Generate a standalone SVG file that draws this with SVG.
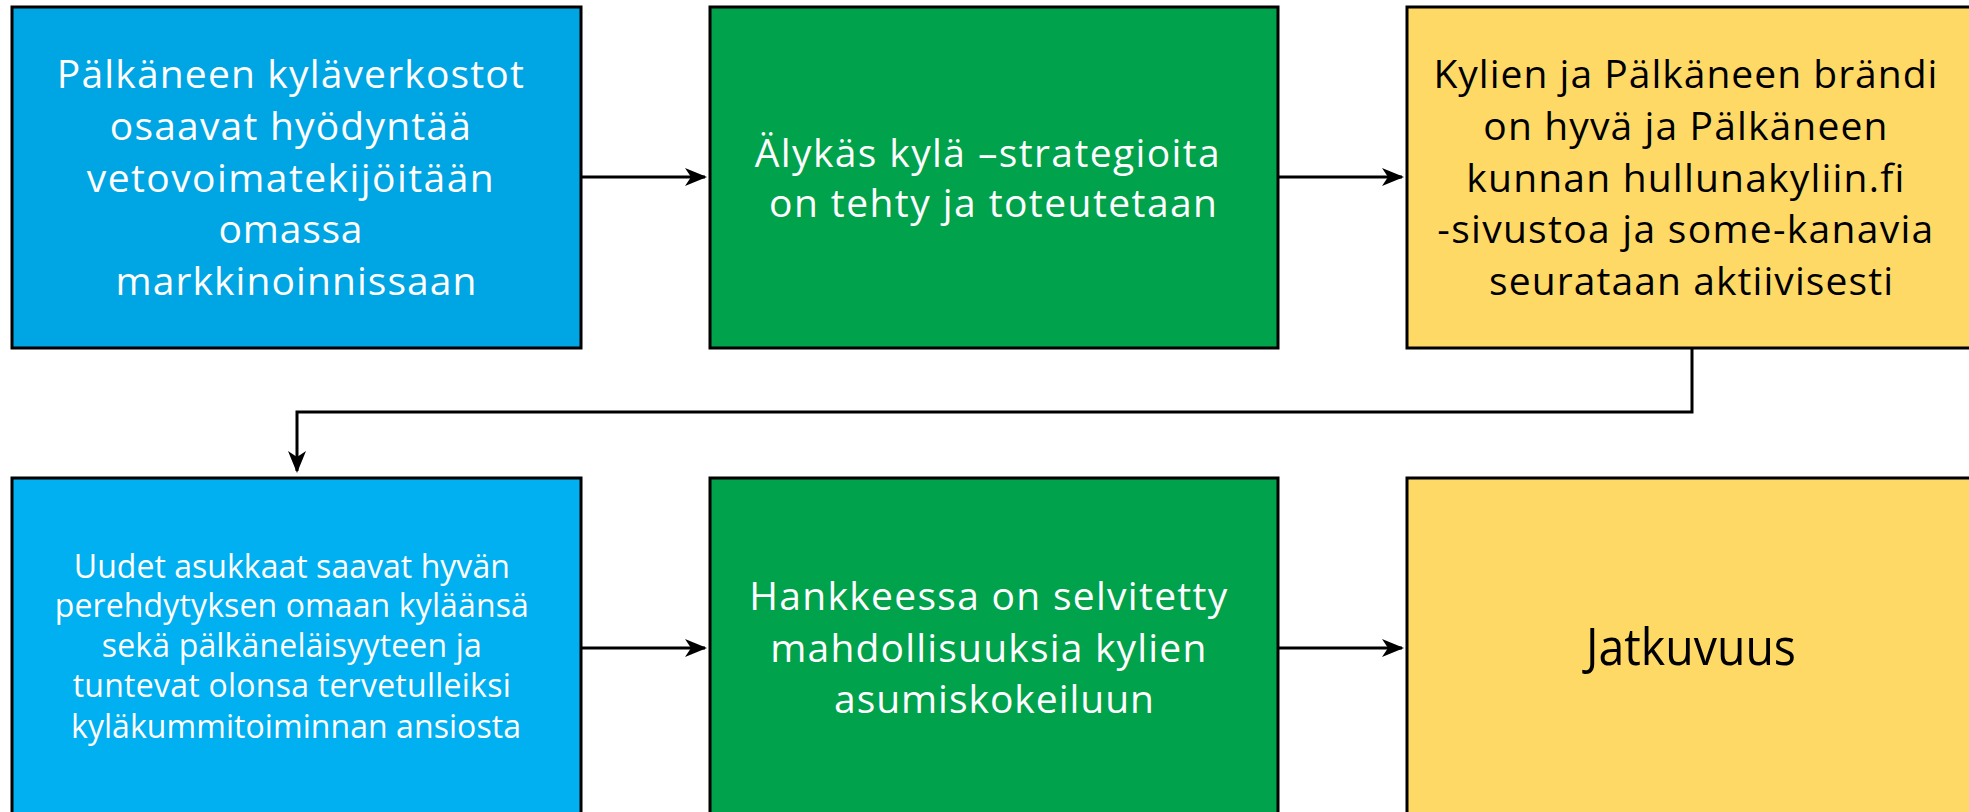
<svg xmlns="http://www.w3.org/2000/svg" width="1969" height="812" viewBox="0 0 1969 812">
<defs>
<style>
.box{stroke:#000;stroke-width:3}
.b1{fill:#00A5E3}
.b4{fill:#00B0F0}
.g{fill:#00A24B}
.y{fill:#FFD966}
.t{font-family:"Open Sans","Noto Sans","Liberation Sans",sans-serif;font-size:39px;text-anchor:middle;font-variant-ligatures:none}
.s{font-size:32px}
.l{font-size:52px}
.w{fill:#fff}
.k{fill:#000}
.c{fill:none;stroke:#000;stroke-width:3}
</style>
<marker id="ah" viewBox="0 0 22 18" refX="20" refY="9" markerWidth="22" markerHeight="18" markerUnits="userSpaceOnUse" orient="auto">
<path d="M0,0 L22,9 L0,18 L6,9 Z" fill="#000"/>
</marker>
</defs>
<rect width="1969" height="812" fill="#fff"/>
<g id="connectors">
<line class="c" x1="581" y1="177" x2="705" y2="177" marker-end="url(#ah)"/>
<line class="c" x1="1278" y1="177" x2="1402" y2="177" marker-end="url(#ah)"/>
<polyline class="c" points="1692,348 1692,412 297,412 297,471" marker-end="url(#ah)"/>
<line class="c" x1="581" y1="648" x2="705" y2="648" marker-end="url(#ah)"/>
<line class="c" x1="1278" y1="648" x2="1402" y2="648" marker-end="url(#ah)"/>
</g>
<g id="node1">
<rect class="box b1" x="12" y="7" width="569" height="341"/>
<text class="t w" lengthAdjust="spacingAndGlyphs">
<tspan x="296" y="88" textLength="467">Pälkäneen kyläverkostot</tspan>
<tspan x="296" y="140" textLength="361">osaavat hyödyntää</tspan>
<tspan x="296" y="192" textLength="407">vetovoimatekijöitään</tspan>
<tspan x="296" y="243" textLength="144">omassa</tspan>
<tspan x="296" y="295" textLength="361">markkinoinnissaan</tspan>
</text>
</g>
<g id="node2">
<rect class="box g" x="710" y="7" width="568" height="341"/>
<text class="t w" lengthAdjust="spacingAndGlyphs">
<tspan x="993" y="167" textLength="465">Älykäs kylä –strategioita</tspan>
<tspan x="993" y="217" textLength="448">on tehty ja toteutetaan</tspan>
</text>
</g>
<g id="node3">
<rect class="box y" x="1407" y="7" width="570" height="341"/>
<text class="t k" lengthAdjust="spacingAndGlyphs">
<tspan x="1691" y="88" textLength="504">Kylien ja Pälkäneen brändi</tspan>
<tspan x="1691" y="140" textLength="404">on hyvä ja Pälkäneen</tspan>
<tspan x="1691" y="192" textLength="438">kunnan hullunakyliin.fi</tspan>
<tspan x="1691" y="243" textLength="496">-sivustoa ja some-kanavia</tspan>
<tspan x="1691" y="295" textLength="404">seurataan aktiivisesti</tspan>
</text>
</g>
<g id="node4">
<rect class="box b4" x="12" y="478" width="569" height="345"/>
<text class="t s w" lengthAdjust="spacingAndGlyphs">
<tspan x="296" y="578" textLength="436">Uudet asukkaat saavat hyvän</tspan>
<tspan x="296" y="617" textLength="474">perehdytyksen omaan kyläänsä</tspan>
<tspan x="296" y="657" textLength="380">sekä pälkäneläisyyteen ja</tspan>
<tspan x="296" y="697" textLength="438">tuntevat olonsa tervetulleiksi</tspan>
<tspan x="296" y="738" textLength="450">kyläkummitoiminnan ansiosta</tspan>
</text>
</g>
<g id="node5">
<rect class="box g" x="710" y="478" width="568" height="345"/>
<text class="t w" lengthAdjust="spacingAndGlyphs">
<tspan x="994" y="610" textLength="478">Hankkeessa on selvitetty</tspan>
<tspan x="994" y="662" textLength="436">mahdollisuuksia kylien</tspan>
<tspan x="994" y="713" textLength="320">asumiskokeiluun</tspan>
</text>
</g>
<g id="node6">
<rect class="box y" x="1407" y="478" width="570" height="345"/>
<text class="t l k" x="1691" y="665" textLength="210" lengthAdjust="spacingAndGlyphs">Jatkuvuus</text>
</g>
</svg>
